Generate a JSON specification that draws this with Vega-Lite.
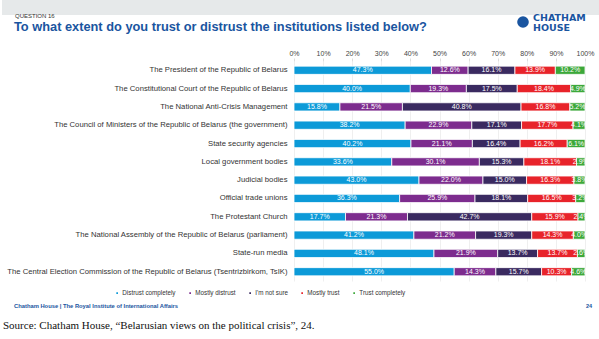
{
  "$schema": "https://vega.github.io/schema/vega-lite/v6.json",
  "width": 291,
  "height": 220,
  "autosize": {"type": "none"},
  "padding": {"left": 294, "top": 61, "right": 14, "bottom": 58},
  "background": "white",
  "config": {
    "view": {"stroke": null},
    "font": "Liberation Sans",
    "axisY": {"title": null, "labelFontSize": 7.7, "labelLimit": 320, "ticks": false, "domain": false, "labelPadding": 7, "labelColor": "#333333"},
    "axisX": {"title": null, "labelOverlap": false, "labelFlush": false, "labelBound": false, "labelFontSize": 7, "labelColor": "#444444", "labelPadding": 2, "tickSize": 3, "tickColor": "#dddddd", "domain": false, "grid": true, "gridColor": "#ebebeb", "gridWidth": 0.8}
  },
  "layer": [
    {
      "data": {"values": [{"band": "top"}]},
      "mark": {"type": "rect", "color": "#e6e9ea"},
      "encoding": {"x": {"value": -292}, "x2": {"value": 305}, "y": {"value": -61}, "y2": {"value": -46}}
    },
    {
      "data": {"values": [{"q": "QUESTION 16"}]},
      "mark": {"type": "text", "align": "left", "baseline": "alphabetic", "fontSize": 6, "color": "#333333"},
      "encoding": {"x": {"value": -279}, "y": {"value": -43.5}, "text": {"field": "q"}}
    },
    {
      "data": {"values": [{"t": "To what extent do you trust or distrust the institutions listed below?"}]},
      "mark": {"type": "text", "align": "left", "baseline": "alphabetic", "fontSize": 12.8, "fontWeight": "bold", "color": "#1a55a0"},
      "encoding": {"x": {"value": -280}, "y": {"value": -30}, "text": {"field": "t"}}
    },
    {
      "data": {"name": "main"},
      "mark": {"type": "bar", "stroke": "white", "strokeWidth": 0.8},
      "encoding": {
        "y": {
          "field": "i", "type": "nominal", "sort": null,
          "scale": {"paddingInner": 0.55, "paddingOuter": 0.28}
        },
        "x": {
          "field": "v", "type": "quantitative", "stack": "normalize",
          "scale": {"domain": [0, 1], "nice": false},
          "axis": {"orient": "top", "format": ".0%", "values": [0, 0.1, 0.2, 0.3, 0.4, 0.5, 0.6, 0.7, 0.8, 0.9, 1]}
        },
        "color": {
          "field": "c", "type": "nominal",
          "scale": {
            "domain": ["Distrust completely", "Mostly distrust", "I'm not sure", "Mostly trust", "Trust completely"],
            "range": ["#0c9ad8", "#7d2c8e", "#3a2a60", "#e8232a", "#3ca83a"]
          },
          "legend": {"title": null, "orient": "none", "legendX": -180, "legendY": 229, "direction": "horizontal", "gridAlign": "none", "symbolType": "square", "symbolSize": 10, "labelFontSize": 6.3, "labelColor": "#333333", "columnPadding": 9, "labelOffset": 2}
        },
        "order": {"field": "k", "type": "quantitative"}
      }
    },
    {
      "data": {"name": "main"},
      "mark": {"type": "text", "color": "white", "fontSize": 7, "baseline": "middle", "align": "center"},
      "encoding": {
        "y": {"field": "i", "type": "nominal", "sort": null},
        "x": {"field": "v", "type": "quantitative", "stack": "normalize", "bandPosition": 0.5,
              "axis": {"orient": "top", "format": ".0%", "values": [0, 0.1, 0.2, 0.3, 0.4, 0.5, 0.6, 0.7, 0.8, 0.9, 1]}},
        "text": {"field": "v", "type": "quantitative", "format": ".1%"},
        "detail": {"field": "c"},
        "order": {"field": "k", "type": "quantitative"}
      }
    },
    {
      "data": {"values": [{"logo": "CHATHAM"}]},
      "mark": {"type": "text", "align": "left", "baseline": "alphabetic", "fontWeight": "bold", "fontSize": 9.5, "color": "#1a55a0", "font": "DejaVu Sans"},
      "encoding": {"x": {"value": 239}, "y": {"value": -40}, "text": {"field": "logo"}}
    },
    {
      "data": {"values": [{"logo": "HOUSE"}]},
      "mark": {"type": "text", "align": "left", "baseline": "alphabetic", "fontWeight": "bold", "fontSize": 9.5, "color": "#1a55a0", "font": "DejaVu Sans"},
      "encoding": {"x": {"value": 239}, "y": {"value": -30.5}, "text": {"field": "logo"}}
    },
    {
      "data": {"values": [{"icon": "globe"}]},
      "mark": {"type": "point", "filled": true, "shape": "circle", "size": 135, "color": "#1a55a0", "opacity": 1},
      "encoding": {"x": {"value": 229}, "y": {"value": -39}}
    },
    {
      "data": {"values": [{"f": "Chatham House  |  The Royal Institute of International Affairs"}]},
      "mark": {"type": "text", "align": "left", "baseline": "middle", "fontWeight": "bold", "fontSize": 5.8, "color": "#1a55a0"},
      "encoding": {"x": {"value": -280}, "y": {"value": 245}, "text": {"field": "f"}}
    },
    {
      "data": {"values": [{"p": "24"}]},
      "mark": {"type": "text", "align": "center", "baseline": "middle", "fontWeight": "bold", "fontSize": 5.5, "color": "#1a55a0"},
      "encoding": {"x": {"value": 295}, "y": {"value": 245}, "text": {"field": "p"}}
    },
    {
      "data": {"values": [{"s": "Source: Chatham House, “Belarusian views on the political crisis”, 24."}]},
      "mark": {"type": "text", "align": "left", "baseline": "middle", "font": "Liberation Serif", "fontSize": 11, "color": "#111111"},
      "encoding": {"x": {"value": -291}, "y": {"value": 265}, "text": {"field": "s"}}
    }
  ],
  "datasets": {
    "main": [
      {"i": "The President of the Republic of Belarus", "c": "Distrust completely", "k": 1, "v": 0.473},
      {"i": "The President of the Republic of Belarus", "c": "Mostly distrust", "k": 2, "v": 0.126},
      {"i": "The President of the Republic of Belarus", "c": "I'm not sure", "k": 3, "v": 0.161},
      {"i": "The President of the Republic of Belarus", "c": "Mostly trust", "k": 4, "v": 0.139},
      {"i": "The President of the Republic of Belarus", "c": "Trust completely", "k": 5, "v": 0.102},
      {"i": "The Constitutional Court of the Republic of Belarus", "c": "Distrust completely", "k": 1, "v": 0.400},
      {"i": "The Constitutional Court of the Republic of Belarus", "c": "Mostly distrust", "k": 2, "v": 0.193},
      {"i": "The Constitutional Court of the Republic of Belarus", "c": "I'm not sure", "k": 3, "v": 0.175},
      {"i": "The Constitutional Court of the Republic of Belarus", "c": "Mostly trust", "k": 4, "v": 0.184},
      {"i": "The Constitutional Court of the Republic of Belarus", "c": "Trust completely", "k": 5, "v": 0.049},
      {"i": "The National Anti-Crisis Management", "c": "Distrust completely", "k": 1, "v": 0.158},
      {"i": "The National Anti-Crisis Management", "c": "Mostly distrust", "k": 2, "v": 0.215},
      {"i": "The National Anti-Crisis Management", "c": "I'm not sure", "k": 3, "v": 0.408},
      {"i": "The National Anti-Crisis Management", "c": "Mostly trust", "k": 4, "v": 0.168},
      {"i": "The National Anti-Crisis Management", "c": "Trust completely", "k": 5, "v": 0.052},
      {"i": "The Council of Ministers of the Republic of Belarus (the government)", "c": "Distrust completely", "k": 1, "v": 0.382},
      {"i": "The Council of Ministers of the Republic of Belarus (the government)", "c": "Mostly distrust", "k": 2, "v": 0.229},
      {"i": "The Council of Ministers of the Republic of Belarus (the government)", "c": "I'm not sure", "k": 3, "v": 0.171},
      {"i": "The Council of Ministers of the Republic of Belarus (the government)", "c": "Mostly trust", "k": 4, "v": 0.177},
      {"i": "The Council of Ministers of the Republic of Belarus (the government)", "c": "Trust completely", "k": 5, "v": 0.041},
      {"i": "State security agencies", "c": "Distrust completely", "k": 1, "v": 0.402},
      {"i": "State security agencies", "c": "Mostly distrust", "k": 2, "v": 0.211},
      {"i": "State security agencies", "c": "I'm not sure", "k": 3, "v": 0.164},
      {"i": "State security agencies", "c": "Mostly trust", "k": 4, "v": 0.162},
      {"i": "State security agencies", "c": "Trust completely", "k": 5, "v": 0.061},
      {"i": "Local government bodies", "c": "Distrust completely", "k": 1, "v": 0.336},
      {"i": "Local government bodies", "c": "Mostly distrust", "k": 2, "v": 0.301},
      {"i": "Local government bodies", "c": "I'm not sure", "k": 3, "v": 0.153},
      {"i": "Local government bodies", "c": "Mostly trust", "k": 4, "v": 0.181},
      {"i": "Local government bodies", "c": "Trust completely", "k": 5, "v": 0.029},
      {"i": "Judicial bodies", "c": "Distrust completely", "k": 1, "v": 0.430},
      {"i": "Judicial bodies", "c": "Mostly distrust", "k": 2, "v": 0.220},
      {"i": "Judicial bodies", "c": "I'm not sure", "k": 3, "v": 0.150},
      {"i": "Judicial bodies", "c": "Mostly trust", "k": 4, "v": 0.163},
      {"i": "Judicial bodies", "c": "Trust completely", "k": 5, "v": 0.038},
      {"i": "Official trade unions", "c": "Distrust completely", "k": 1, "v": 0.363},
      {"i": "Official trade unions", "c": "Mostly distrust", "k": 2, "v": 0.259},
      {"i": "Official trade unions", "c": "I'm not sure", "k": 3, "v": 0.181},
      {"i": "Official trade unions", "c": "Mostly trust", "k": 4, "v": 0.165},
      {"i": "Official trade unions", "c": "Trust completely", "k": 5, "v": 0.032},
      {"i": "The Protestant Church", "c": "Distrust completely", "k": 1, "v": 0.177},
      {"i": "The Protestant Church", "c": "Mostly distrust", "k": 2, "v": 0.213},
      {"i": "The Protestant Church", "c": "I'm not sure", "k": 3, "v": 0.427},
      {"i": "The Protestant Church", "c": "Mostly trust", "k": 4, "v": 0.159},
      {"i": "The Protestant Church", "c": "Trust completely", "k": 5, "v": 0.024},
      {"i": "The National Assembly of the Republic of Belarus (parliament)", "c": "Distrust completely", "k": 1, "v": 0.412},
      {"i": "The National Assembly of the Republic of Belarus (parliament)", "c": "Mostly distrust", "k": 2, "v": 0.212},
      {"i": "The National Assembly of the Republic of Belarus (parliament)", "c": "I'm not sure", "k": 3, "v": 0.193},
      {"i": "The National Assembly of the Republic of Belarus (parliament)", "c": "Mostly trust", "k": 4, "v": 0.143},
      {"i": "The National Assembly of the Republic of Belarus (parliament)", "c": "Trust completely", "k": 5, "v": 0.040},
      {"i": "State-run media", "c": "Distrust completely", "k": 1, "v": 0.481},
      {"i": "State-run media", "c": "Mostly distrust", "k": 2, "v": 0.219},
      {"i": "State-run media", "c": "I'm not sure", "k": 3, "v": 0.137},
      {"i": "State-run media", "c": "Mostly trust", "k": 4, "v": 0.137},
      {"i": "State-run media", "c": "Trust completely", "k": 5, "v": 0.026},
      {"i": "The Central Election Commission of the Republic of Belarus (Tsentrizbirkom, TsIK)", "c": "Distrust completely", "k": 1, "v": 0.550},
      {"i": "The Central Election Commission of the Republic of Belarus (Tsentrizbirkom, TsIK)", "c": "Mostly distrust", "k": 2, "v": 0.143},
      {"i": "The Central Election Commission of the Republic of Belarus (Tsentrizbirkom, TsIK)", "c": "I'm not sure", "k": 3, "v": 0.157},
      {"i": "The Central Election Commission of the Republic of Belarus (Tsentrizbirkom, TsIK)", "c": "Mostly trust", "k": 4, "v": 0.103},
      {"i": "The Central Election Commission of the Republic of Belarus (Tsentrizbirkom, TsIK)", "c": "Trust completely", "k": 5, "v": 0.046}
    ]
  }
}
